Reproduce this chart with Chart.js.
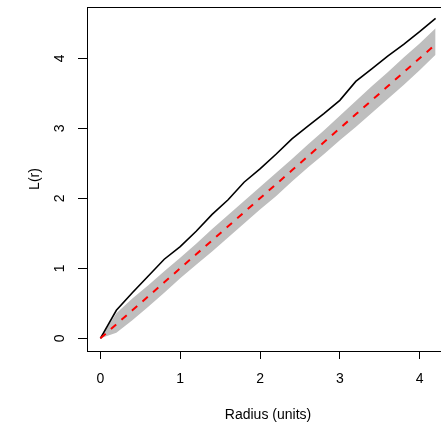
<!DOCTYPE html>
<html lang="en">
<head>
  <meta charset="UTF-8" />
  <title>L-function with envelope</title>
  <script src="https://cdn.jsdelivr.net/npm/chart.js"></script>
  <style>
    html, body {
      margin: 0;
      padding: 0;
      background: #fff;
      overflow: hidden;
    }
    #wrap {
      width: 460px;
      height: 427px;
    }
  </style>
</head>
<body>
  <div id="wrap"><canvas id="grafico"></canvas></div>

  <script>
    // radius values
    const radius = [0, 0.2, 0.4, 0.6, 0.8, 1.0, 1.2, 1.4, 1.6, 1.8, 2.0, 2.2, 2.4, 2.6, 2.8, 3.0, 3.2, 3.4, 3.6, 3.8, 4.0, 4.2];
    // observed L(r)
    const observed = [0, 0.40, 0.65, 0.89, 1.13, 1.31, 1.53, 1.77, 1.98, 2.23, 2.42, 2.63, 2.85, 3.03, 3.21, 3.40, 3.67, 3.85, 4.03, 4.20, 4.38, 4.57];
    // theoretical L(r) = r
    const theoretical = [0, 0.2, 0.4, 0.6, 0.8, 1.0, 1.2, 1.4, 1.6, 1.8, 2.0, 2.2, 2.4, 2.6, 2.8, 3.0, 3.2, 3.4, 3.6, 3.8, 4.0, 4.2];
    // simulation envelope
    const envHi = [0, 0.36, 0.57, 0.76, 0.96, 1.15, 1.35, 1.56, 1.76, 1.96, 2.16, 2.36, 2.56, 2.77, 2.97, 3.18, 3.39, 3.60, 3.80, 4.01, 4.21, 4.43];
    const envLo = [0, 0.08, 0.26, 0.45, 0.65, 0.86, 1.05, 1.24, 1.44, 1.64, 1.84, 2.03, 2.24, 2.44, 2.63, 2.83, 3.02, 3.22, 3.42, 3.62, 3.83, 4.05];

    const xTicks = [0, 1, 2, 3, 4];
    const yTicks = [0, 1, 2, 3, 4];
    const xTitle = "Radius (units)";
    const yTitle = "L(r)";

    const pts = (ys) => radius.map((r, i) => ({ x: r, y: ys[i] }));
    const fonte = "14px Arial, 'Liberation Sans', sans-serif";

    // box + labels drawn like base R graphics
    const moldura = {
      id: 'moldura',
      afterDraw(chart) {
        const ctx = chart.ctx;
        const a = chart.chartArea;
        const sx = chart.scales.x;
        const sy = chart.scales.y;
        ctx.save();
        ctx.strokeStyle = '#000';
        ctx.lineWidth = 1;
        ctx.strokeRect(Math.round(a.left) + 0.5, Math.round(a.top) + 0.5, Math.round(a.right - a.left), Math.round(a.bottom - a.top));

        ctx.fillStyle = '#000';
        ctx.font = fonte;
        ctx.textAlign = 'center';
        ctx.textBaseline = 'middle';
        xTicks.forEach(v => ctx.fillText(String(v), sx.getPixelForValue(v), 379));
        ctx.fillText(xTitle, (a.left + a.right) / 2, 415);

        yTicks.forEach(v => {
          ctx.save();
          ctx.translate(60, sy.getPixelForValue(v));
          ctx.rotate(-Math.PI / 2);
          ctx.fillText(String(v), 0, 0);
          ctx.restore();
        });
        ctx.save();
        ctx.translate(35, (a.top + a.bottom) / 2);
        ctx.rotate(-Math.PI / 2);
        ctx.fillText(yTitle, 0, 0);
        ctx.restore();
        ctx.restore();
      }
    };

    new Chart(document.getElementById('grafico'), {
      type: 'line',
      data: {
        datasets: [
          {
            label: 'hi',
            data: pts(envHi),
            borderWidth: 0,
            pointRadius: 0,
            backgroundColor: '#BEBEBE',
            fill: '+1',
            order: 4
          },
          {
            label: 'lo',
            data: pts(envLo),
            borderWidth: 0,
            pointRadius: 0,
            fill: false,
            order: 3
          },
          {
            label: 'obs',
            data: pts(observed),
            borderColor: '#000',
            borderWidth: 1.6,
            pointRadius: 0,
            fill: false,
            order: 2
          },
          {
            label: 'theo',
            data: pts(theoretical),
            borderColor: '#FF0000',
            borderWidth: 2,
            borderDash: [7, 7],
            pointRadius: 0,
            fill: false,
            order: 1
          }
        ]
      },
      options: {
        responsive: true,
        maintainAspectRatio: false,
        animation: false,
        layout: { padding: { top: 7, right: 11, left: 0, bottom: 0 } },
        plugins: {
          legend: { display: false },
          tooltip: { enabled: false }
        },
        scales: {
          x: {
            type: 'linear',
            min: -0.168,
            max: 4.368,
            afterFit(s) { s.height = 76; },
            afterBuildTicks(s) { s.ticks = xTicks.map(v => ({ value: v })); },
            ticks: { display: false },
            border: { display: false },
            grid: { drawOnChartArea: false, drawTicks: true, tickLength: 8, color: '#000', lineWidth: 1 }
          },
          y: {
            type: 'linear',
            min: -0.181,
            max: 4.733,
            afterFit(s) { s.width = 87; },
            afterBuildTicks(s) { s.ticks = yTicks.map(v => ({ value: v })); },
            ticks: { display: false },
            border: { display: false },
            grid: { drawOnChartArea: false, drawTicks: true, tickLength: 9, color: '#000', lineWidth: 1 }
          }
        }
      },
      plugins: [moldura]
    });
  </script>
</body>
</html>
